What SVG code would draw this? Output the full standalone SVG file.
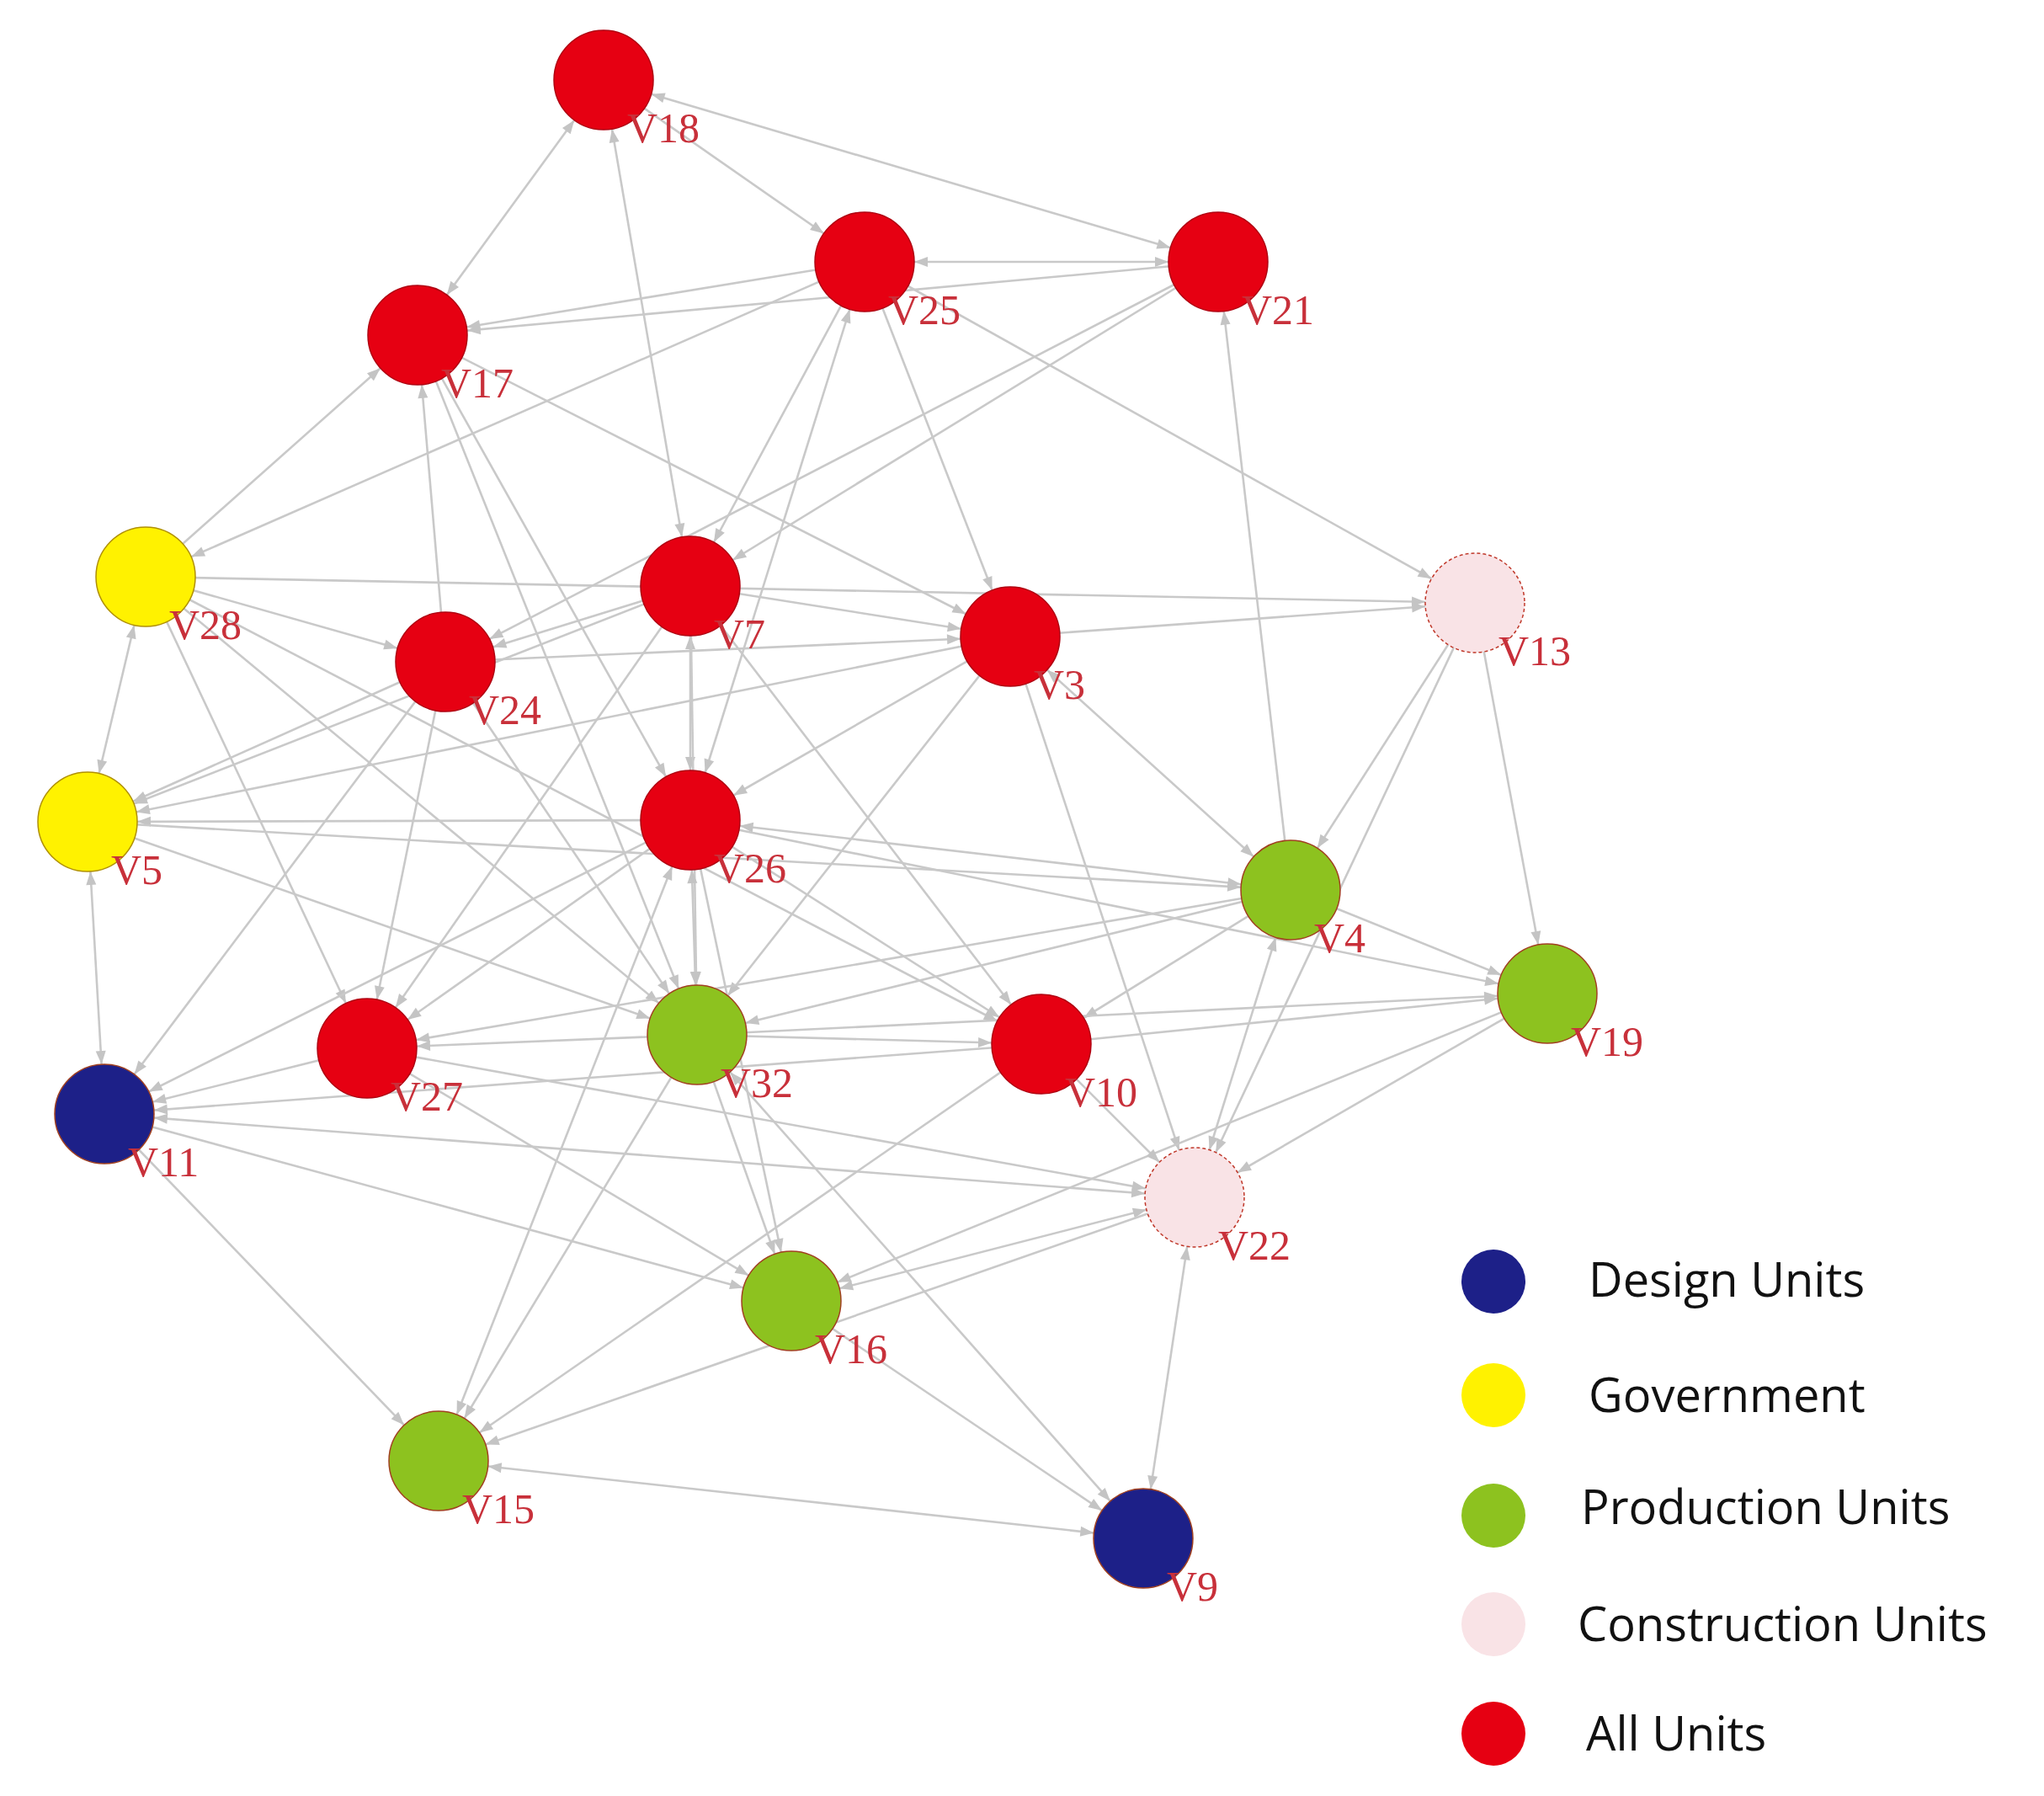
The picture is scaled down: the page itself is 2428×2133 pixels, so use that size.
<svg xmlns="http://www.w3.org/2000/svg" width="2428" height="2133" viewBox="0 0 2428 2133">
<style>
.e{stroke:#c9c9c9;stroke-width:2.6;fill:none;marker-end:url(#a)}
.b{marker-start:url(#s)}
.lb{font-family:"Liberation Serif",serif;font-size:50px;fill:#c8303a}
.lg{font-family:"Open Sans","Noto Sans",sans-serif;font-size:56px;fill:#111}
.r{fill:#e60012;stroke:#b00010;stroke-width:1.5}
.y{fill:#fff200;stroke:#b09000;stroke-width:1.5}
.g{fill:#8dc21f;stroke:#a04020;stroke-width:1.5}
.n{fill:#1d2088;stroke:#a04020;stroke-width:1.5}
.p{fill:#f9e3e6;stroke:#c0392b;stroke-width:1.5;stroke-dasharray:4 3}
</style>
<defs>
<marker id="a" markerUnits="userSpaceOnUse" markerWidth="20" markerHeight="14" refX="75" refY="6" orient="auto" overflow="visible"><path d="M0,0L16,6L0,12z" fill="#c4c4c4"/></marker>
<marker id="s" markerUnits="userSpaceOnUse" markerWidth="20" markerHeight="14" refX="75" refY="6" orient="auto-start-reverse" overflow="visible"><path d="M0,0L16,6L0,12z" fill="#c4c4c4"/></marker>
</defs>
<rect width="2428" height="2133" fill="#fff"/>
<g id="connectors">
<line class="e b" x1="717" y1="95" x2="496" y2="398"/>
<line class="e" x1="717" y1="95" x2="1027" y2="311"/>
<line class="e b" x1="717" y1="95" x2="1447" y2="311"/>
<line class="e b" x1="717" y1="95" x2="820" y2="696"/>
<line class="e b" x1="1027" y1="311" x2="1447" y2="311"/>
<line class="e" x1="1027" y1="311" x2="496" y2="398"/>
<line class="e" x1="1447" y1="311" x2="496" y2="398"/>
<line class="e" x1="1027" y1="311" x2="1200" y2="756"/>
<line class="e" x1="1027" y1="311" x2="1752" y2="716"/>
<line class="e b" x1="1027" y1="311" x2="820" y2="974"/>
<line class="e" x1="1027" y1="311" x2="820" y2="696"/>
<line class="e" x1="1027" y1="311" x2="173" y2="685"/>
<line class="e" x1="1447" y1="311" x2="529" y2="786"/>
<line class="e" x1="1447" y1="311" x2="820" y2="696"/>
<line class="e" x1="1533" y1="1057" x2="1447" y2="311"/>
<line class="e" x1="173" y1="685" x2="496" y2="398"/>
<line class="e" x1="529" y1="786" x2="496" y2="398"/>
<line class="e" x1="496" y1="398" x2="820" y2="974"/>
<line class="e" x1="496" y1="398" x2="828" y2="1229"/>
<line class="e" x1="496" y1="398" x2="1200" y2="756"/>
<line class="e" x1="173" y1="685" x2="1752" y2="716"/>
<line class="e" x1="173" y1="685" x2="529" y2="786"/>
<line class="e b" x1="173" y1="685" x2="104" y2="976"/>
<line class="e" x1="173" y1="685" x2="436" y2="1245"/>
<line class="e" x1="173" y1="685" x2="828" y2="1229"/>
<line class="e" x1="173" y1="685" x2="1237" y2="1240"/>
<line class="e b" x1="820" y1="696" x2="820" y2="974"/>
<line class="e" x1="820" y1="696" x2="1200" y2="756"/>
<line class="e" x1="820" y1="696" x2="529" y2="786"/>
<line class="e" x1="820" y1="696" x2="104" y2="976"/>
<line class="e" x1="820" y1="696" x2="436" y2="1245"/>
<line class="e" x1="820" y1="696" x2="1237" y2="1240"/>
<line class="e" x1="820" y1="696" x2="828" y2="1229"/>
<line class="e" x1="529" y1="786" x2="1200" y2="756"/>
<line class="e" x1="529" y1="786" x2="104" y2="976"/>
<line class="e" x1="529" y1="786" x2="124" y2="1323"/>
<line class="e" x1="529" y1="786" x2="828" y2="1229"/>
<line class="e" x1="529" y1="786" x2="436" y2="1245"/>
<line class="e" x1="1200" y1="756" x2="1752" y2="716"/>
<line class="e" x1="1200" y1="756" x2="104" y2="976"/>
<line class="e" x1="1200" y1="756" x2="820" y2="974"/>
<line class="e b" x1="1200" y1="756" x2="1533" y2="1057"/>
<line class="e" x1="1200" y1="756" x2="1419" y2="1422"/>
<line class="e" x1="1200" y1="756" x2="828" y2="1229"/>
<line class="e b" x1="104" y1="976" x2="124" y2="1323"/>
<line class="e" x1="820" y1="974" x2="104" y2="976"/>
<line class="e" x1="104" y1="976" x2="1533" y2="1057"/>
<line class="e" x1="104" y1="976" x2="828" y2="1229"/>
<line class="e b" x1="1533" y1="1057" x2="820" y2="974"/>
<line class="e" x1="820" y1="974" x2="1838" y2="1180"/>
<line class="e b" x1="820" y1="974" x2="828" y2="1229"/>
<line class="e" x1="820" y1="974" x2="1237" y2="1240"/>
<line class="e" x1="820" y1="974" x2="436" y2="1245"/>
<line class="e" x1="820" y1="974" x2="124" y2="1323"/>
<line class="e b" x1="820" y1="974" x2="521" y2="1735"/>
<line class="e" x1="820" y1="974" x2="940" y2="1545"/>
<line class="e" x1="1752" y1="716" x2="1838" y2="1180"/>
<line class="e" x1="1752" y1="716" x2="1533" y2="1057"/>
<line class="e" x1="1752" y1="716" x2="1419" y2="1422"/>
<line class="e" x1="1533" y1="1057" x2="828" y2="1229"/>
<line class="e" x1="1533" y1="1057" x2="1237" y2="1240"/>
<line class="e b" x1="1533" y1="1057" x2="1419" y2="1422"/>
<line class="e" x1="1533" y1="1057" x2="1838" y2="1180"/>
<line class="e" x1="1533" y1="1057" x2="436" y2="1245"/>
<line class="e" x1="1237" y1="1240" x2="1838" y2="1180"/>
<line class="e" x1="1838" y1="1180" x2="1419" y2="1422"/>
<line class="e" x1="1838" y1="1180" x2="940" y2="1545"/>
<line class="e" x1="828" y1="1229" x2="1838" y2="1180"/>
<line class="e" x1="828" y1="1229" x2="1237" y2="1240"/>
<line class="e" x1="828" y1="1229" x2="436" y2="1245"/>
<line class="e" x1="828" y1="1229" x2="940" y2="1545"/>
<line class="e" x1="828" y1="1229" x2="521" y2="1735"/>
<line class="e b" x1="828" y1="1229" x2="1358" y2="1827"/>
<line class="e" x1="436" y1="1245" x2="124" y2="1323"/>
<line class="e" x1="436" y1="1245" x2="940" y2="1545"/>
<line class="e" x1="436" y1="1245" x2="1419" y2="1422"/>
<line class="e" x1="1237" y1="1240" x2="1419" y2="1422"/>
<line class="e" x1="1237" y1="1240" x2="521" y2="1735"/>
<line class="e b" x1="1419" y1="1422" x2="124" y2="1323"/>
<line class="e" x1="124" y1="1323" x2="940" y2="1545"/>
<line class="e" x1="124" y1="1323" x2="521" y2="1735"/>
<line class="e" x1="1237" y1="1240" x2="124" y2="1323"/>
<line class="e b" x1="1419" y1="1422" x2="940" y2="1545"/>
<line class="e b" x1="1419" y1="1422" x2="1358" y2="1827"/>
<line class="e" x1="940" y1="1545" x2="1358" y2="1827"/>
<line class="e b" x1="521" y1="1735" x2="1358" y2="1827"/>
<line class="e" x1="1419" y1="1422" x2="521" y2="1735"/>
</g>
<g id="V18"><circle class="r" cx="717" cy="95" r="59"/><text class="lb" x="745" y="169">V18</text></g>
<g id="V25"><circle class="r" cx="1027" cy="311" r="59"/><text class="lb" x="1055" y="385">V25</text></g>
<g id="V21"><circle class="r" cx="1447" cy="311" r="59"/><text class="lb" x="1475" y="385">V21</text></g>
<g id="V17"><circle class="r" cx="496" cy="398" r="59"/><text class="lb" x="524" y="472">V17</text></g>
<g id="V28"><circle class="y" cx="173" cy="685" r="59"/><text class="lb" x="201" y="759">V28</text></g>
<g id="V7"><circle class="r" cx="820" cy="696" r="59"/><text class="lb" x="848" y="770">V7</text></g>
<g id="V24"><circle class="r" cx="529" cy="786" r="59"/><text class="lb" x="557" y="860">V24</text></g>
<g id="V3"><circle class="r" cx="1200" cy="756" r="59"/><text class="lb" x="1228" y="830">V3</text></g>
<g id="V13"><circle class="p" cx="1752" cy="716" r="59"/><text class="lb" x="1780" y="790">V13</text></g>
<g id="V5"><circle class="y" cx="104" cy="976" r="59"/><text class="lb" x="132" y="1050">V5</text></g>
<g id="V26"><circle class="r" cx="820" cy="974" r="59"/><text class="lb" x="848" y="1048">V26</text></g>
<g id="V4"><circle class="g" cx="1533" cy="1057" r="59"/><text class="lb" x="1561" y="1131">V4</text></g>
<g id="V19"><circle class="g" cx="1838" cy="1180" r="59"/><text class="lb" x="1866" y="1254">V19</text></g>
<g id="V32"><circle class="g" cx="828" cy="1229" r="59"/><text class="lb" x="856" y="1303">V32</text></g>
<g id="V27"><circle class="r" cx="436" cy="1245" r="59"/><text class="lb" x="464" y="1319">V27</text></g>
<g id="V10"><circle class="r" cx="1237" cy="1240" r="59"/><text class="lb" x="1265" y="1314">V10</text></g>
<g id="V11"><circle class="n" cx="124" cy="1323" r="59"/><text class="lb" x="152" y="1397">V11</text></g>
<g id="V22"><circle class="p" cx="1419" cy="1422" r="59"/><text class="lb" x="1447" y="1496">V22</text></g>
<g id="V16"><circle class="g" cx="940" cy="1545" r="59"/><text class="lb" x="968" y="1619">V16</text></g>
<g id="V15"><circle class="g" cx="521" cy="1735" r="59"/><text class="lb" x="549" y="1809">V15</text></g>
<g id="V9"><circle class="n" cx="1358" cy="1827" r="59"/><text class="lb" x="1386" y="1901">V9</text></g>
<g id="legend">
<circle cx="1774" cy="1522" r="38" fill="#1d2088"/><text class="lg" x="1887" y="1540">Design Units</text>
<circle cx="1774" cy="1657" r="38" fill="#fff200"/><text class="lg" x="1887" y="1677">Government</text>
<circle cx="1774" cy="1800" r="38" fill="#8dc21f"/><text class="lg" x="1878" y="1810">Production Units</text>
<circle cx="1774" cy="1929" r="38" fill="#f9e3e6"/><text class="lg" x="1874" y="1949">Construction Units</text>
<circle cx="1774" cy="2059" r="38" fill="#e60012"/><text class="lg" x="1884" y="2079">All Units</text>
</g>
</svg>
